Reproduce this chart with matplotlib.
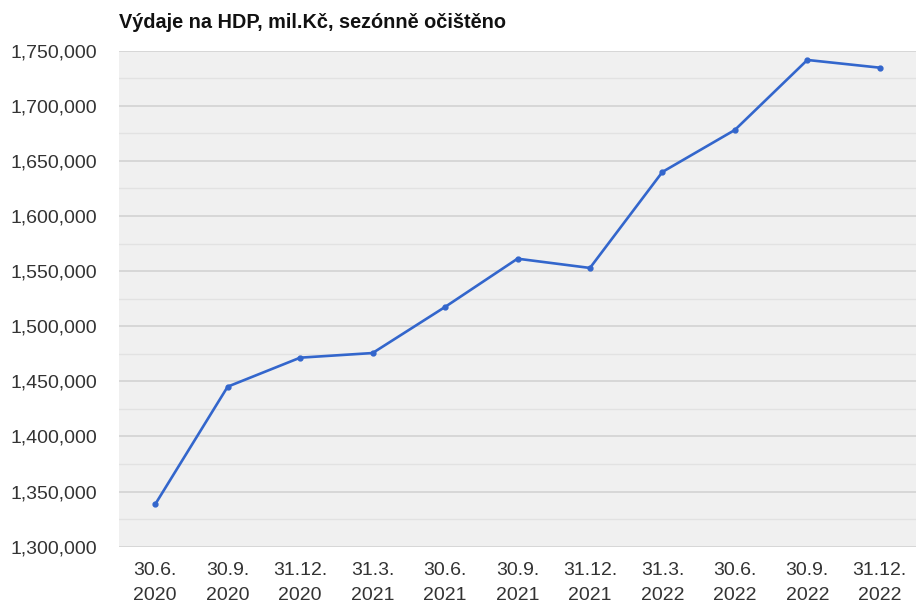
import matplotlib
matplotlib.use("Agg")
import matplotlib.pyplot as plt
from matplotlib.ticker import FuncFormatter, MultipleLocator

plt.rcParams['font.family'] = ['Liberation Sans', 'DejaVu Sans']

categories = ["30.6.\n2020", "30.9.\n2020", "31.12.\n2020", "31.3.\n2021", "30.6.\n2021",
              "30.9.\n2021", "31.12.\n2021", "31.3.\n2022", "30.6.\n2022", "30.9.\n2022",
              "31.12.\n2022"]
values = [1338500, 1445200, 1471500, 1475700, 1517500, 1561300, 1552900,
          1640000, 1678100, 1741600, 1734600]
title = "Výdaje na HDP, mil.Kč, sezónně očištěno"

fig = plt.figure(figsize=(9.16, 6.06), dpi=100)
ax = fig.add_axes([119/916, 1-546.7/606, 1-119/916, (546.7-50.7)/606])
ax.set_facecolor('#f0f0f0')

x = list(range(len(categories)))
ax.plot(x, values, color='#3366cc', lw=1.9, marker='o', ms=3.5, zorder=3)

ax.set_xlim(-0.5, len(categories) - 0.5)
ax.set_ylim(1300000, 1750000)
ax.yaxis.set_major_locator(MultipleLocator(50000))
ax.yaxis.set_minor_locator(MultipleLocator(25000))
ax.yaxis.set_major_formatter(FuncFormatter(lambda v, p: f"{int(v):,}"))
ax.grid(axis='y', which='major', color='#d2d2d2', lw=1.2, zorder=1)
ax.grid(axis='y', which='minor', color='#e2e2e2', lw=1.0, zorder=1)
ax.set_xticks(x)
ax.set_xticklabels(categories, linespacing=1.6)
ax.tick_params(axis='both', which='both', length=0, labelsize=14, labelcolor='#333333')
ax.tick_params(axis='y', pad=16)
ax.tick_params(axis='x', pad=11)
for s in ax.spines.values():
    s.set_visible(False)

fig.text(119/916, 1-22/606, title, fontsize=14.3, fontweight='bold', color='#111111',
         ha='left', va='center')

fig.savefig('out.png', dpi=100, facecolor='white')
